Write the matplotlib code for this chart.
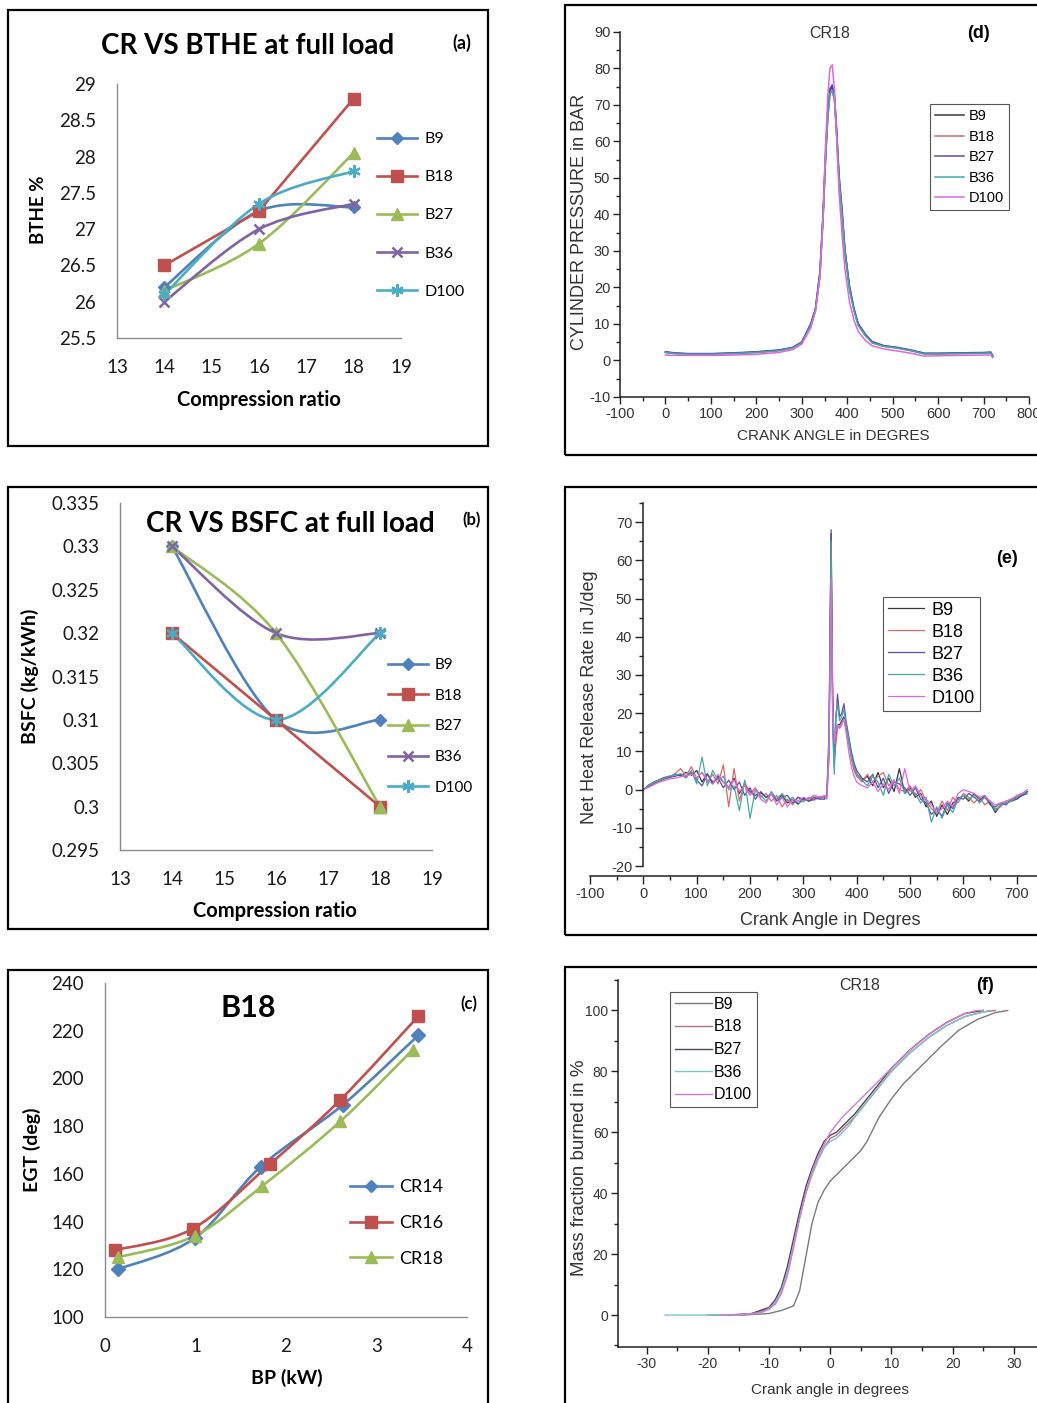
import numpy as np
import matplotlib.pyplot as plt
from matplotlib.patches import Rectangle, PathPatch
from matplotlib.path import Path
from matplotlib.lines import Line2D
from matplotlib.ticker import MultipleLocator, FuncFormatter

plt.rcParams['axes.unicode_minus'] = False

# ---- (a) CR vs BTHE ----
fuels = ['B9', 'B18', 'B27', 'B36', 'D100']
cr = [14, 16, 18]
bthe_b9 = [26.2, 27.25, 27.3]
bthe_b18 = [26.5, 27.25, 28.8]
bthe_b27 = [26.15, 26.8, 28.05]
bthe_b36 = [26.0, 27.0, 27.35]
bthe_d100 = [26.1, 27.35, 27.8]

# ---- (b) CR vs BSFC ----
bsfc_b9 = [0.33, 0.31, 0.31]
bsfc_b18 = [0.32, 0.31, 0.30]
bsfc_b27 = [0.33, 0.32, 0.30]
bsfc_b36 = [0.33, 0.32, 0.32]
bsfc_d100 = [0.32, 0.31, 0.32]

# ---- (c) EGT vs BP for B18 ----
cr_names = ['CR14', 'CR16', 'CR18']
bp_cr14 = [0.14, 0.99, 1.72, 2.63, 3.46]
egt_cr14 = [120, 133, 163, 189, 218]
bp_cr16 = [0.11, 0.97, 1.82, 2.60, 3.46]
egt_cr16 = [128, 137, 164, 191, 226]
bp_cr18 = [0.14, 0.99, 1.74, 2.60, 3.40]
egt_cr18 = [125, 134, 155, 182, 212]

# ---- (d) cylinder pressure ----
p_ca = [0, 20, 50, 100, 150, 200, 250, 280, 300, 320, 330, 340, 347, 352, 357, 362, 367, 372,
        377, 382, 389, 395, 405, 415, 424, 440, 455, 480, 510, 540, 570, 600, 650, 700, 716, 720]
p_b9 = [2.3, 2.0, 1.8, 1.8, 2.0, 2.3, 2.8, 3.5, 5.0, 10.0, 14.0, 24.0, 40.0, 55.0, 67.0, 74.0, 75.0, 72.0,
        62.0, 50.0, 40.0, 30.0, 20.0, 14.0, 10.0, 7.0, 5.0, 4.0, 3.5, 2.8, 1.9, 1.9, 2.0, 2.1, 2.2, 1.2]
p_b18 = [2.2, 1.9, 1.8, 1.8, 1.9, 2.2, 2.7, 3.4, 4.9, 9.8, 13.8, 23.5, 39.5, 54.0, 66.0, 73.0, 74.0, 71.0,
         61.0, 49.0, 39.0, 29.5, 19.5, 13.8, 9.8, 6.8, 4.9, 3.9, 3.4, 2.7, 1.8, 1.8, 1.9, 2.0, 2.1, 1.1]
p_b27 = [2.4, 2.1, 1.9, 1.9, 2.1, 2.4, 2.9, 3.6, 5.1, 10.2, 14.2, 24.5, 41.0, 56.0, 68.0, 74.5, 75.5, 72.5,
         63.0, 51.0, 41.0, 30.5, 20.5, 14.2, 10.2, 7.2, 5.2, 4.1, 3.6, 2.9, 2.0, 2.0, 2.1, 2.2, 2.3, 1.3]
p_b36 = [2.2, 1.9, 1.7, 1.7, 1.9, 2.2, 2.7, 3.4, 4.8, 9.6, 13.5, 23.0, 39.0, 54.0, 66.0, 73.0, 74.0, 71.5,
         61.5, 49.5, 39.5, 29.5, 19.5, 13.5, 9.6, 6.8, 4.8, 3.9, 3.4, 2.7, 1.8, 1.8, 1.9, 2.0, 2.1, 1.1]
p_d100 = [1.5, 1.4, 1.4, 1.4, 1.5, 1.7, 2.2, 3.0, 4.5, 9.0, 13.5, 23.0, 40.0, 58.0, 72.0, 80.0, 81.0, 74.0,
          60.0, 46.0, 34.0, 25.0, 16.0, 11.0, 8.0, 5.5, 4.0, 3.2, 2.6, 2.0, 1.2, 1.3, 1.4, 1.5, 1.5, 0.8]

# ---- (e) net heat release rate ----
h_ca = np.r_[np.arange(0, 341, 10),
             [344, 348, 352, 355, 358, 361, 364, 368, 372, 376, 380, 385, 390, 395, 400],
             np.arange(410, 721, 10)]
h_b9 = [0, 1.2, 2.0, 2.6, 3.2, 3.5, 4.0, 3.6, 4.5, 3.8,
        5.0, 2.0, 4.2, 1.5, 3.5, 2.0, 0.5, 3.0, -1.0, 1.5,
        -0.5, -1.5, -0.8, -2.0, -1.2, -2.5, -1.5, -3.5, -2.5, -3.8,
        -2.2, -3.0, -2.5, -2.2, -2.0,
        -1.5, 10, 67, 25, 10, 14, 17, 17, 18, 19, 17, 13, 9, 6, 4,
        2.5, 3.5, 1.0, 4.5, 0.5, 3.0, -0.5, 5.5, -1.0, 0.5,
        -2.0, -1.0, -4.5, -3.0, -7.0, -4.0, -6.5, -3.5, -2.5, -1.5,
        -3.0, -1.0, -2.5, -2.0, -3.5, -6.0, -4.0, -3.5, -3.0, -2.5,
        -1.5, -1.0]
h_b18 = [0, 1.0, 1.8, 2.5, 3.0, 3.4, 4.2, 5.5, 3.5, 6.0,
         3.0, 4.5, 2.0, 4.0, 1.5, 6.5, -4.5, 5.5, -3.0, 2.0,
         -1.0, 0.5, -2.0, -1.0, -3.0, -1.5, -4.5, -2.5, -4.0, -2.0,
         -3.2, -2.0, -2.8, -1.8, -2.2,
         -2.0, 8, 60, 20, 8, 12, 16, 16.5, 17.5, 18.5, 16, 12, 8, 5, 3.5,
         2.0, 4.0, 2.0, 3.5, 4.5, 1.0, 2.5, 0.0, -0.5, 1.0,
         -1.5, 0.0, -3.0, -5.0, -6.0, -3.0, -5.5, -2.0, -3.5, -1.0,
         -2.0, -3.5, -2.0, -4.0, -3.0, -5.0, -4.5, -3.0, -2.5, -2.0,
         -1.0, -0.5]
h_b27 = [0, 0.8, 1.6, 2.2, 2.8, 3.2, 3.5, 4.0, 3.2, 4.5,
         2.5, 1.0, 4.0, 2.0, 3.0, 0.5, 2.5, 0.0, 2.0, -1.5,
         0.5, -2.5, -0.5, -2.0, -1.0, -3.0, -2.0, -1.5, -3.5, -2.0,
         -2.5, -3.0, -2.0, -2.5, -2.5,
         -1.0, 15, 68, 20, 6, 18, 25, 19, 20, 22.5, 18, 14, 10, 7, 5,
         3.0, 2.0, 4.0, 0.5, 3.0, -1.0, 2.0, 1.5, 0.5, -1.5,
         0.5, -2.5, -3.5, -6.5, -5.0, -7.0, -3.5, -5.0, -2.0, -2.5,
         -1.0, -2.0, -3.0, -1.5, -4.0, -4.5, -3.5, -4.0, -2.5, -2.0,
         -1.5, -0.5]
h_b36 = [0, 1.1, 1.9, 2.4, 3.0, 3.6, 3.8, 4.2, 3.0, 5.0,
         1.5, 8.5, 1.0, 5.0, 2.5, 3.5, 0.0, 1.0, -5.5, 2.5,
         -7.5, 0.0, -1.5, -3.0, -0.5, -2.5, -1.0, -3.0, -2.0, -3.5,
         -3.0, -2.5, -1.5, -2.0, -1.8,
         -1.5, 12, 65, 15, 4, 20, 22, 18, 19, 21, 17, 13, 9, 6, 4,
         2.5, 1.0, 3.5, 2.0, -1.5, 4.0, 1.0, 3.0, -1.0, 0.0,
         -1.0, -3.5, -2.0, -8.5, -4.5, -7.5, -4.0, -6.0, -2.5, -1.5,
         -2.5, -1.5, -3.5, -2.0, -3.0, -5.5, -4.0, -3.5, -3.0, -2.0,
         -1.0, -1.0]
h_d100 = [0, 0.6, 1.3, 2.0, 2.4, 2.8, 3.0, 3.4, 3.6, 4.0,
          3.0, 4.5, 2.5, 1.5, 4.0, 2.0, 0.5, 2.5, -0.5, 1.0,
          -1.5, 0.0, -2.5, -3.5, -1.0, -4.0, -2.0, -4.5, -2.5, -3.0,
          -2.0, -2.5, -1.5, -2.0, -1.5,
          -2.5, 9, 55, 22, 12, 15, 17, 16, 17, 18.5, 15, 10, 6, 3.5, 2,
          1.0, 0.5, 2.0, -0.5, 1.5, 0.0, 2.5, -1.0, 5.5, -0.5,
          1.0, -1.5, -2.5, -4.0, -6.0, -5.0, -3.0, -4.5, -1.0, 0.0,
          -0.5, -1.0, -2.0, -1.5, -3.0, -4.0, -3.5, -3.0, -2.5, -1.5,
          -1.0, 0.0]

# ---- (f) mass fraction burned ----
mfb_b9_ca = [-20, -14, -10, -8, -6, -5, -4, -3, -2, -1, 0, 1, 2, 3, 4, 5, 6, 7, 8, 10, 12, 15, 18, 21, 24, 27, 29]
mfb_b9 = [0, 0, 0.5, 1.5, 3, 8, 19, 30, 37, 41, 44, 46, 48, 50, 52, 54, 57, 61, 65, 71, 76, 82, 88, 93.5, 97, 99.3, 100]
mfb_b18_ca = [-16, -13, -10, -9, -8, -7, -6, -5, -4, -3, -2, -1, 0, 1, 2, 3, 4, 6, 8, 10, 13, 16, 19, 22, 25, 27]
mfb_b18 = [0, 0.3, 2, 4, 8, 14, 23, 32, 40, 46, 51, 55, 58, 59, 61, 63, 65, 70, 75, 80, 86, 91, 95, 98, 99.5, 100]
mfb_b27_ca = [-17, -13, -10, -9, -8, -7, -6, -5, -4, -3, -2, -1, 0, 1, 2, 3, 4, 6, 8, 10, 13, 16, 19, 22, 25]
mfb_b27 = [0, 0.4, 2.5, 5, 9, 16, 25, 34, 42, 48, 53, 57, 59, 60, 62, 64, 66, 71, 76, 81, 87, 92, 96, 99, 100]
mfb_b36_ca = [-27, -20, -15, -12, -10, -9, -8, -7, -6, -5, -4, -3, -2, -1, 0, 1, 2, 3, 4, 6, 8, 10, 13, 16, 19, 22, 25, 26]
mfb_b36 = [0, 0, 0, 0.5, 1.8, 4, 8, 14, 23, 32, 40, 46, 51, 55, 57, 58, 60, 62, 65, 70, 75, 80, 86, 91, 95, 98, 99.5, 100]
mfb_d100_ca = [-18, -14, -11, -9, -8, -7, -6, -5, -4, -3, -2, -1, 0, 2, 4, 6, 8, 10, 13, 16, 19, 22, 24, 25]
mfb_d100 = [0, 0.2, 1.0, 3.5, 7, 13, 22, 32, 40, 47, 52, 56, 60, 65, 69, 73, 77, 81, 87, 92, 96, 99, 100, 100]

W, H = 1037, 1403
fig = plt.figure(figsize=(W / 100, H / 100), dpi=100)

XL = ['Lato', 'DejaVu Sans']
OR = ['Liberation Sans', 'DejaVu Sans']
xl_colors = ['#4F81BD', '#C0504D', '#9BBB59', '#8064A2', '#4BACC6']
xl_markers = [('D', 6, 1), ('s', 8, 1), ('^', 8, 1), ('x', 7, 1.8), ((6, 2, 0), 9, 1.6)]
or_colors = ['#383838', '#d86a6a', '#5a4fa8', '#45a8a8', '#e066e0']


def px_axes(l, t, r, b):
    return fig.add_axes([l / W, 1 - b / H, (r - l) / W, (b - t) / H])


def fxy(x, y):
    return x / W, 1 - y / H


def label_at(ax, l, t, r, b, xl, yl):
    ax.xaxis.set_label_coords((xl[0] - l) / (r - l), (b - xl[1]) / (b - t))
    ax.yaxis.set_label_coords((yl[0] - l) / (r - l), (b - yl[1]) / (b - t))


def smooth(ax, x, y, color, lw=1.9):
    # Excel-style smoothed line through the points (Catmull-Rom as cubic Bezier)
    p = np.column_stack([x, y]).astype(float)
    n = len(p)
    verts = [p[0]]
    codes = [Path.MOVETO]
    for i in range(n - 1):
        p0 = p[max(i - 1, 0)]
        p1 = p[i]
        p2 = p[i + 1]
        p3 = p[min(i + 2, n - 1)]
        verts += [p1 + (p2 - p0) / 6, p2 - (p3 - p1) / 6, p2]
        codes += [Path.CURVE4] * 3
    ax.add_patch(PathPatch(Path(verts, codes), fill=False, ec=color, lw=lw, zorder=2))


def excel_axes(l, t, r, b, xlim, ylim, xticks, yticks):
    ax = px_axes(l, t, r, b)
    ax.set_xlim(*xlim)
    ax.set_ylim(*ylim)
    ax.set_xticks(xticks)
    ax.set_yticks(yticks)
    ax.xaxis.set_major_formatter(FuncFormatter(lambda v, _: f'{v:g}'))
    ax.yaxis.set_major_formatter(FuncFormatter(lambda v, _: f'{v:g}'))
    for s in ['top', 'right']:
        ax.spines[s].set_visible(False)
    for s in ['left', 'bottom']:
        ax.spines[s].set_color('#8c8c8c')
        ax.spines[s].set_linewidth(1.0)
    ax.tick_params(length=0, pad=15, labelsize=13.5, labelcolor='#1a1a1a')
    for lab in ax.get_xticklabels() + ax.get_yticklabels():
        lab.set_family(XL)
    ax.patch.set_alpha(0)
    return ax


def excel_handles(n, names):
    hs = []
    for i in range(n):
        m, ms, mew = xl_markers[i]
        hs.append(Line2D([], [], color=xl_colors[i], lw=1.9, marker=m, ms=ms, mew=mew,
                         mec=xl_colors[i], mfc=xl_colors[i], label=names[i]))
    return hs


def origin_axes(l, t, r, b, tsize=10.5):
    ax = px_axes(l, t, r, b)
    for s in ['top', 'right']:
        ax.spines[s].set_visible(False)
    for s in ['left', 'bottom']:
        ax.spines[s].set_color('#222222')
        ax.spines[s].set_linewidth(1.1)
    ax.tick_params(which='major', direction='out', length=5, width=1.0, color='#222222',
                   labelsize=tsize, labelcolor='#333333', pad=2)
    ax.tick_params(which='minor', direction='out', length=3, width=1.0, color='#222222')
    ax.patch.set_alpha(0)
    return ax


def origin_fonts(ax):
    for lab in ax.get_xticklabels() + ax.get_yticklabels():
        lab.set_family(OR)


def origin_legend(ax, x, y, size, hl, htp, ls, bp):
    leg = ax.legend(loc='upper left', bbox_to_anchor=fxy(x, y), bbox_transform=fig.transFigure,
                    borderaxespad=0, borderpad=bp, handlelength=hl, handletextpad=htp,
                    labelspacing=ls, fancybox=False, framealpha=1, prop={'family': OR, 'size': size})
    leg.get_frame().set_edgecolor('#555555')
    leg.get_frame().set_linewidth(0.8)
    return leg


# ---- panel frames ----
for (l, t, r, b) in [(8, 10, 488, 446), (8, 487, 488, 929), (8, 970, 488, 1410),
                     (565, 5, 1045, 455), (565, 487, 1045, 935), (565, 967, 1045, 1410)]:
    fig.add_artist(Rectangle(fxy(l, b), (r - l) / W, (b - t) / H, transform=fig.transFigure,
                             fill=False, ec='black', lw=1.6))

# ================= (a) =================
box = (117, 84, 401, 338)
ax = excel_axes(*box, (13, 19), (25.5, 29), range(13, 20), np.arange(25.5, 29.01, 0.5))
series = [bthe_b9, bthe_b18, bthe_b27, bthe_b36, bthe_d100]
for i, y in enumerate(series):
    m, ms, mew = xl_markers[i]
    if fuels[i] == 'B18':
        ax.plot(cr, y, color=xl_colors[i], lw=1.9, zorder=2)
    else:
        smooth(ax, cr, y, xl_colors[i])
    ax.plot(cr, y, ls='none', marker=m, ms=ms, mew=mew, color=xl_colors[i], zorder=3)
ax.set_xlabel('Compression ratio', fontsize=14.5, fontweight='bold', family=XL, va='center')
ax.set_ylabel('BTHE %', fontsize=13.5, fontweight='bold', family=XL, va='center')
label_at(ax, *box, (259, 400), (38, 210))
ax.legend(handles=excel_handles(5, fuels), loc='upper left', bbox_to_anchor=fxy(377, 132),
          bbox_transform=fig.transFigure, frameon=False, borderpad=0, borderaxespad=0,
          handlelength=2.5, handletextpad=0.45, labelspacing=1.5,
          prop={'family': XL, 'size': 11.5})
fig.text(*fxy(248, 46), 'CR VS BTHE at full load', ha='center', va='center',
         fontsize=20, fontweight='bold', family=XL)
fig.text(*fxy(462, 43), '(a)', ha='center', va='center', fontsize=13, fontweight='bold', family=XL)

# ================= (b) =================
box = (120, 503, 432, 850)
ax = excel_axes(*box, (13, 19), (0.295, 0.335), range(13, 20),
                [0.295, 0.3, 0.305, 0.31, 0.315, 0.32, 0.325, 0.33, 0.335])
series = [bsfc_b9, bsfc_b18, bsfc_b27, bsfc_b36, bsfc_d100]
for i, y in enumerate(series):
    m, ms, mew = xl_markers[i]
    if fuels[i] == 'B18':
        ax.plot(cr, y, color=xl_colors[i], lw=1.9, zorder=2)
    else:
        smooth(ax, cr, y, xl_colors[i])
    ax.plot(cr, y, ls='none', marker=m, ms=ms, mew=mew, color=xl_colors[i], zorder=3)
ax.set_xlabel('Compression ratio', fontsize=14.5, fontweight='bold', family=XL, va='center')
ax.set_ylabel('BSFC (kg/kWh)', fontsize=14, fontweight='bold', family=XL, va='center')
label_at(ax, *box, (275, 911), (30, 676))
ax.legend(handles=excel_handles(5, fuels), loc='upper left', bbox_to_anchor=fxy(388, 658),
          bbox_transform=fig.transFigure, frameon=False, borderpad=0, borderaxespad=0,
          handlelength=2.6, handletextpad=0.45, labelspacing=1.09,
          prop={'family': XL, 'size': 11})
fig.text(*fxy(290, 524), 'CR VS BSFC at full load', ha='center', va='center',
         fontsize=20, fontweight='bold', family=XL)
fig.text(*fxy(472, 520), '(b)', ha='center', va='center', fontsize=12, fontweight='bold', family=XL)

# ================= (c) =================
box = (105, 983, 467, 1317)
ax = excel_axes(*box, (0, 4), (100, 240), range(0, 5), range(100, 241, 20))
cx = [bp_cr14, bp_cr16, bp_cr18]
cy = [egt_cr14, egt_cr16, egt_cr18]
for i in range(3):
    m, ms, mew = xl_markers[i]
    smooth(ax, cx[i], cy[i], xl_colors[i])
    ax.plot(cx[i], cy[i], ls='none', marker=m, ms=ms + 1, mew=mew, color=xl_colors[i], zorder=3)
ax.set_xlabel('BP (kW)', fontsize=14, fontweight='bold', family=XL, va='center')
ax.set_ylabel('EGT (deg)', fontsize=14, fontweight='bold', family=XL, va='center')
label_at(ax, *box, (287, 1378), (32, 1150))
ax.legend(handles=excel_handles(3, cr_names), loc='upper left', bbox_to_anchor=fxy(350, 1179),
          bbox_transform=fig.transFigure, frameon=False, borderpad=0, borderaxespad=0,
          handlelength=2.3, handletextpad=0.4, labelspacing=1.1,
          prop={'family': XL, 'size': 13})
fig.text(*fxy(248, 1008), 'B18', ha='center', va='center', fontsize=22, fontweight='bold', family=XL)
fig.text(*fxy(469, 1004), '(c)', ha='center', va='center', fontsize=12, fontweight='bold', family=XL)

# ================= (d) =================
box = (620, 32, 1029, 397)
ax = origin_axes(*box)
for y, c, name in zip([p_b9, p_b18, p_b27, p_b36, p_d100], or_colors, fuels):
    ax.plot(p_ca, y, color=c, lw=1.1, label=name)
ax.set_xlim(-100, 800)
ax.set_ylim(-10, 90)
ax.xaxis.set_major_locator(MultipleLocator(100))
ax.xaxis.set_minor_locator(MultipleLocator(50))
ax.yaxis.set_major_locator(MultipleLocator(10))
ax.yaxis.set_minor_locator(MultipleLocator(5))
origin_fonts(ax)
ax.set_xlabel('CRANK ANGLE in DEGRES', fontsize=11, family=OR, color='#333333', va='center')
ax.set_ylabel('CYLINDER PRESSURE in BAR', fontsize=13, family=OR, color='#333333', va='center')
label_at(ax, *box, (833, 436), (580, 222))
origin_legend(ax, 930, 104, 10.5, 2.0, 0.3, 0.45, 0.35)
fig.text(*fxy(830, 33), 'CR18', ha='center', va='center', fontsize=11.5, family=OR, color='#333333')
fig.text(*fxy(978, 33), '(d)', ha='center', va='center', fontsize=13, fontweight='bold', family=OR)

# ================= (e) =================
box = (590, 503, 1037, 876)
ax = origin_axes(*box)
for y, c, name in zip([h_b9, h_b18, h_b27, h_b36, h_d100], or_colors, fuels):
    ax.plot(h_ca, y, color=c, lw=0.9, label=name)
ax.set_xlim(-100, 738)
ax.set_ylim(-22.6, 75)
ax.spines['left'].set_position(('data', 0))
ax.spines['left'].set_bounds(-20, 75)
ax.xaxis.set_major_locator(MultipleLocator(100))
ax.xaxis.set_minor_locator(MultipleLocator(50))
ax.set_yticks(range(-20, 71, 10))
ax.yaxis.set_minor_locator(MultipleLocator(5))
ax.tick_params(which='major', length=6)
origin_fonts(ax)
ax.set_xlabel('Crank Angle in Degres', fontsize=13, family=OR, color='#333333', va='center')
ax.set_ylabel('Net Heat Release Rate in J/deg', fontsize=13, family=OR, color='#333333', va='center')
label_at(ax, *box, (830, 920), (590, 697))
origin_legend(ax, 883, 597, 13, 2.0, 0.45, 0.28, 0.25)
fig.text(*fxy(1007, 558), '(e)', ha='center', va='center', fontsize=13, fontweight='bold', family=OR)

# ================= (f) =================
box = (618, 980, 1037, 1347)
ax = origin_axes(*box, tsize=10)
fx = [mfb_b9_ca, mfb_b18_ca, mfb_b27_ca, mfb_b36_ca, mfb_d100_ca]
fy = [mfb_b9, mfb_b18, mfb_b27, mfb_b36, mfb_d100]
f_colors = ['#7a7a7a', '#b07482', '#54445e', '#7cc4c4', '#d27ad2']
for x, y, c, name in zip(fx, fy, f_colors, fuels):
    ax.plot(x, y, color=c, lw=1.0, label=name)
ax.set_xlim(-34.7, 33.8)
ax.set_ylim(-10.5, 110)
ax.set_xticks(range(-30, 31, 10))
ax.xaxis.set_minor_locator(MultipleLocator(5))
ax.set_yticks(range(0, 101, 20))
ax.yaxis.set_minor_locator(MultipleLocator(10))
origin_fonts(ax)
ax.set_xlabel('Crank angle in degrees', fontsize=11, family=OR, color='#333333', va='center')
ax.set_ylabel('Mass fraction burned in %', fontsize=13.5, family=OR, color='#333333', va='center')
label_at(ax, *box, (830, 1390), (580, 1168))
origin_legend(ax, 670, 992, 11.5, 2.3, 0.15, 0.48, 0.3)
fig.text(*fxy(860, 985), 'CR18', ha='center', va='center', fontsize=11.5, family=OR, color='#333333')
fig.text(*fxy(985, 986), '(f)', ha='center', va='center', fontsize=13, fontweight='bold', family=OR)

fig.savefig('out.png', dpi=100)
